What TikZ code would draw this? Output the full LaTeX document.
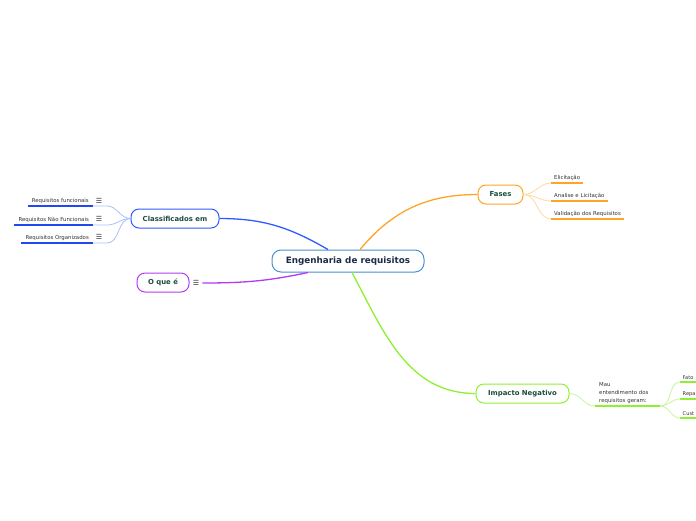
\documentclass[tikz,border=0pt]{standalone}
\usepackage{fontspec}
\setmainfont{DejaVu Sans}
\usetikzlibrary{calc}
\definecolor{navy}{HTML}{1C2B4A}
\definecolor{dgreen}{HTML}{1B4D3E}
\definecolor{cblue}{HTML}{4A90D2}
\definecolor{bblue}{HTML}{2F5BFF}
\definecolor{lblue}{HTML}{A9BEFF}
\definecolor{ulblue}{HTML}{2347F0}
\definecolor{purp}{HTML}{B13BF5}
\definecolor{orng}{HTML}{FFA526}
\definecolor{lorng}{HTML}{FFD9A0}
\definecolor{grn}{HTML}{8EF030}
\definecolor{lgrn}{HTML}{C8F5A0}
\definecolor{ltext}{HTML}{333333}
\tikzset{
  topic/.style={draw, fill=white, rounded corners=8pt, line width=1pt, text=dgreen,
    font=\fontsize{6.9}{8}\selectfont\bfseries, inner sep=0pt, minimum height=19pt},
  leaf/.style={text=ltext, font=\fontsize{5.4}{6.5}\selectfont, inner xsep=4pt, inner ysep=2.5pt},
  edgeleaf/.style={leaf, font=\fontsize{5.1}{6.5}\selectfont, inner xsep=2.5pt},
  icon/.style={text=ltext, font=\fontsize{7}{8}\selectfont, inner sep=0pt},
  ul/.style={line width=1.8pt},
  branch/.style={line width=0.8pt},
  mainline/.style={line width=1.3pt}
}
\begin{document}
\begin{tikzpicture}[x=1pt,y=-1pt]
\useasboundingbox (0,0) rectangle (696,520);
\clip (0,0) rectangle (696,520);
% central
\node[draw=cblue, fill=white, rounded corners=9pt, line width=1pt, text=navy,
  font=\fontsize{8.8}{10}\selectfont\bfseries, minimum width=152pt, minimum height=22pt, inner sep=0pt]
  (c) at (348,261) {Engenharia de requisitos};
% topics
\node[topic, draw=bblue, minimum width=88pt] (cls) at (175,218.5) {Classificados em};
\node[topic, draw=purp, minimum width=52pt] (oq) at (163,282.5) {O que é};
\node[topic, draw=orng, minimum width=45pt] (fa) at (500.5,194.5) {Fases};
\node[topic, draw=grn, minimum width=93pt] (im) at (522.5,393.5) {Impacto Negativo};
% main connectors
\draw[mainline, bblue] (cls.east) to[out=0,in=150] ($(c.north)+(-20,0)$);
\draw[mainline, orng] ($(c.north)+(12,0)$) to[out=50,in=180] (fa.west);
\draw[mainline, grn] ($(c.south)+(4,0)$) to[out=-62,in=180] (im.west);
\node[icon] (oqi) at (196,283) {☰};
\draw[mainline, purp] (oqi.east) ++(3,0) coordinate (oqs) to[out=0,in=192] ($(c.south)+(-40,0)$);
% Classificados leaves
\node[leaf, anchor=south east] (rf) at (93,206) {Requisitos funcionais};
\node[leaf, anchor=south east] (rnf) at (93,225) {Requisitos Não Funcionais};
\node[leaf, anchor=south east] (ro) at (93,243) {Requisitos Organizados};
\node[icon] (rfi) at (99,200.5) {☰};
\node[icon] (rnfi) at (99,218.5) {☰};
\node[icon] (roi) at (99,236.5) {☰};
\foreach \n in {rf,rnf,ro}{
  \draw[ul, ulblue] (\n.south west) -- (\n.south east);
  \draw[branch, lblue] (\n.south east) -- ++(14,0) to[out=0,in=180] (cls.west);
}
% Fases leaves
\node[leaf, anchor=south west, inner xsep=3pt] (el) at (551,183) {Elicitação};
\node[leaf, anchor=south west, inner xsep=3pt] (al) at (551,201) {Analise e Licitação};
\node[leaf, anchor=south west, inner xsep=3pt] (va) at (551,219) {Validação dos Requisitos};
\foreach \n in {el,al,va}{
  \draw[ul, orng] (\n.south west) -- (\n.south east);
  \draw[branch, lorng] (fa.east) to[out=0,in=180] (\n.south west);
}
% Impacto leaves
\node[leaf, anchor=south west, align=left, text width=57pt, inner xsep=4pt, font=\fontsize{5.4}{8}\selectfont] (mau) at (595,406)
  {Mau\\entendimento dos\\requisitos geram:};
\draw[ul, grn] (mau.south west) -- (mau.south east);
\draw[branch, lgrn] (im.east) to[out=0,in=180] (mau.south west);
\node[edgeleaf, anchor=south west] (fat) at (680,382) {Fato};
\node[edgeleaf, anchor=south west] (rep) at (680,399) {Repa};
\node[edgeleaf, anchor=south west] (cus) at (680,418) {Cust};
\foreach \n in {fat,rep,cus}{
  \draw[ul, grn] (\n.south west) -- ++(20,0);
  \draw[branch, lgrn] (mau.south east) to[out=0,in=180] (\n.south west);
}
\end{tikzpicture}
\end{document}
